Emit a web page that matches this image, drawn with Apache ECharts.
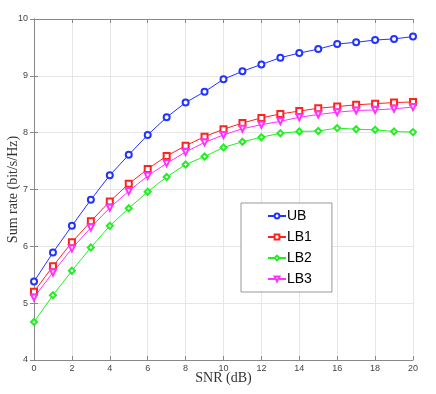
<!DOCTYPE html>
<html>
<head>
<meta charset="utf-8">
<script src="https://cdn.jsdelivr.net/npm/echarts@6/dist/echarts.min.js"></script>
<style>
  html, body { margin: 0; padding: 0; background: #fff; }
  #chart { width: 436px; height: 394px; }
</style>
</head>
<body>
<div id="chart"></div>
<script>
const snr = [0, 1, 2, 3, 4, 5, 6, 7, 8, 9, 10, 11, 12, 13, 14, 15, 16, 17, 18, 19, 20]
const ub = [5.38, 5.89, 6.36, 6.82, 7.25, 7.61, 7.96, 8.27, 8.53, 8.72, 8.94, 9.08, 9.20, 9.32, 9.40, 9.47, 9.56, 9.59, 9.63, 9.65, 9.69]
const lb1 = [5.20, 5.65, 6.07, 6.44, 6.79, 7.10, 7.36, 7.59, 7.77, 7.93, 8.06, 8.17, 8.26, 8.33, 8.38, 8.43, 8.46, 8.49, 8.51, 8.53, 8.54]
const lb2 = [4.67, 5.14, 5.57, 5.98, 6.36, 6.67, 6.96, 7.22, 7.44, 7.58, 7.74, 7.84, 7.92, 7.99, 8.02, 8.03, 8.08, 8.06, 8.05, 8.02, 8.01]
const lb3 = [5.10, 5.54, 5.96, 6.33, 6.68, 6.97, 7.24, 7.46, 7.66, 7.83, 7.96, 8.07, 8.14, 8.20, 8.27, 8.32, 8.36, 8.39, 8.40, 8.42, 8.45]

const chart = echarts.init(document.getElementById('chart'))

const tickLabel = { color: '#444', fontSize: 9, fontFamily: 'Liberation Sans' }
const gridLine = { lineStyle: { color: '#e6e6e6', width: 1 } }
const axisLine = { lineStyle: { color: '#888', width: 1 } }
const tick = { inside: true, length: 4, lineStyle: { color: '#888' } }

const makeSeries = (name, data, color, symbol, rotate) => ({
  name,
  type: 'line',
  data: snr.map((x, i) => [x, data[i]]),
  symbol,
  symbolSize: 6,
  symbolRotate: rotate || 0,
  showSymbol: true,
  lineStyle: { color, width: 1 },
  itemStyle: { color, borderColor: color, borderWidth: 1 },
  emphasis: { disabled: true },
  z: 3
})

const option = {
  backgroundColor: '#fff',
  animation: false,
  grid: { left: 34, right: 23, top: 19, bottom: 34, outerBoundsMode: 'none', containLabel: false },
  legend: {
    orient: 'vertical',
    left: 241,
    top: 203,
    padding: [5, 20, 5, 26],
    itemGap: 5,
    itemWidth: 18,
    itemHeight: 6,
    backgroundColor: '#fff',
    borderColor: '#999',
    borderWidth: 1,
    textStyle: { color: '#000', fontSize: 14, lineHeight: 16, fontFamily: 'Liberation Sans', padding: [0, 0, 0, -4] },
    data: ['UB', 'LB1', 'LB2', 'LB3']
  },
  xAxis: [
    {
      type: 'value',
      min: 0, max: 20, interval: 2,
      name: 'SNR (dB)',
      nameLocation: 'middle',
      nameGap: 11,
      nameMoveOverlap: false,
      nameTextStyle: { color: '#333', fontSize: 14, fontFamily: 'Liberation Serif' },
      axisLine,
      axisTick: tick,
      axisLabel: Object.assign({ margin: 4 }, tickLabel),
      splitLine: gridLine
    },
    {
      type: 'value', position: 'top',
      min: 0, max: 20, interval: 2,
      axisLine,
      axisTick: tick,
      axisLabel: { show: false },
      splitLine: { show: false }
    }
  ],
  yAxis: [
    {
      type: 'value',
      min: 4, max: 10, interval: 1,
      name: 'Sum rate (bit/s/Hz)',
      nameLocation: 'middle',
      nameGap: 14,
      nameMoveOverlap: false,
      nameTextStyle: { color: '#333', fontSize: 14, fontFamily: 'Liberation Serif' },
      axisLine,
      axisTick: tick,
      axisLabel: Object.assign({ margin: 6 }, tickLabel),
      splitLine: gridLine
    },
    {
      type: 'value', position: 'right',
      min: 4, max: 10, interval: 1,
      axisLine,
      axisTick: tick,
      axisLabel: { show: false },
      splitLine: { show: false }
    }
  ],
  series: [
    makeSeries('UB', ub, '#2233ff', 'emptyCircle'),
    makeSeries('LB1', lb1, '#ff2222', 'emptyRect'),
    makeSeries('LB2', lb2, '#22ee22', 'emptyDiamond'),
    makeSeries('LB3', lb3, '#ff33ff', 'emptyTriangle', 180)
  ]
}

chart.setOption(option)
</script>
</body>
</html>
